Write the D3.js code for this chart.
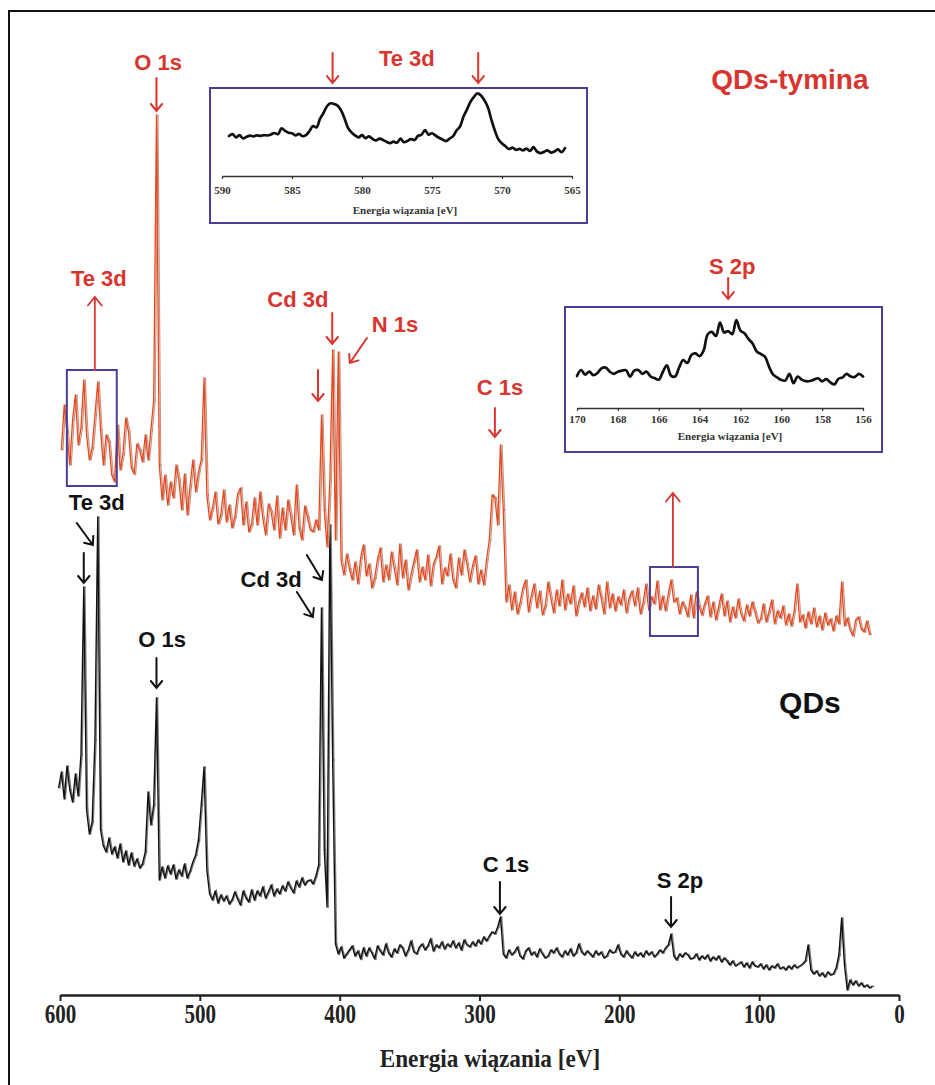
<!DOCTYPE html>
<html>
<head>
<meta charset="utf-8">
<script src="https://cdn.jsdelivr.net/npm/d3@7"></script>
<style>
  html, body { margin: 0; padding: 0; background: #fff; }
  svg { display: block; }
</style>
</head>
<body>
<svg id="chart" width="935" height="1085"></svg>
<script>
// ---------------------------------------------------------------
// XPS survey spectra (binding energy grid: start, step in eV)
// ---------------------------------------------------------------
const qdsStart = 601, qdsStep = 2;          // QDs
const qdsIntensity = [
  21.2, 22.8, 20.1, 23.4, 21.0, 19.8, 22.6, 20.4, 24.5, 41.3,
  19.0, 16.6, 17.8, 26.0, 48.3, 17.0, 15.4, 14.8, 16.2, 14.6,
  15.3, 14.2, 15.6, 13.8, 14.9, 13.5, 14.7, 13.4, 14.1, 13.2,
  13.6, 14.8, 20.8, 17.5, 19.5, 30.2, 12.0, 13.3, 12.2, 13.4,
  12.6, 13.5, 12.1, 13.0, 12.4, 13.6, 12.2, 12.9, 13.8, 14.5,
  16.0, 19.5, 23.3, 13.0, 10.6, 10.0, 10.9, 9.7, 10.5, 9.9,
  10.4, 9.6, 10.0, 10.8, 10.1, 9.5, 10.9, 10.2, 9.8, 11.0,
  10.0, 10.9, 10.4, 11.3, 10.2, 10.8, 11.5, 10.4, 11.1, 10.6,
  11.4, 10.9, 11.8, 11.2, 10.7, 11.9, 11.3, 12.2, 11.5, 11.9,
  12.0, 11.6, 12.4, 13.5, 39.2, 15.0, 9.3, 47.5, 24.0, 5.6,
  4.6, 5.3, 4.2, 4.6, 5.0, 5.4, 4.4, 4.9, 4.1, 5.2,
  4.4, 5.2, 4.7, 4.1, 5.4, 4.9, 4.5, 5.6, 4.7, 4.3,
  5.1, 4.7, 5.5, 5.2, 4.4, 5.0, 5.9, 4.8, 4.6, 5.3,
  5.6, 5.0, 5.4, 6.1, 4.9, 5.5, 5.2, 5.8, 5.1, 5.6,
  5.3, 5.9, 5.2, 5.7, 5.0, 6.0, 5.5, 5.3, 5.8, 5.4,
  6.0, 5.6, 6.3, 5.9, 6.4, 6.8, 6.6, 7.3, 8.3, 4.6,
  4.2, 5.0, 4.5, 4.8, 5.3, 4.4, 4.1, 4.9, 5.2, 4.5,
  4.8, 4.3, 5.1, 4.6, 4.2, 4.4, 5.0, 4.7, 5.2, 4.6,
  4.3, 4.9, 4.5, 5.1, 4.4, 4.7, 5.6, 4.8, 4.5, 4.9,
  4.6, 4.3, 4.9, 4.5, 4.8, 4.2, 4.4, 5.0, 4.7, 4.8,
  5.5, 4.6, 4.3, 4.9, 4.5, 4.2, 4.8, 4.4, 4.7, 4.3,
  4.9, 4.5, 4.8, 4.3, 4.6, 5.0, 4.7, 5.2, 5.5, 6.6,
  4.4, 4.0, 4.6, 4.3, 4.7, 4.5, 4.1, 4.2, 4.6, 4.0,
  4.4, 4.1, 4.5, 3.9, 4.3, 4.0, 4.4, 3.8, 4.2, 3.9,
  3.5, 3.9, 3.4, 3.6, 3.8, 3.3, 3.7, 3.2, 3.8, 3.4,
  3.3, 3.6, 3.1, 3.5, 3.0, 3.4, 3.2, 3.6, 3.1, 3.3,
  3.0, 3.4, 3.1, 3.5, 3.2, 3.4, 3.6, 3.9, 5.5, 3.0,
  2.6, 2.9, 2.4, 2.7, 2.3, 2.8, 2.5, 2.6, 3.2, 4.5,
  8.2, 3.5, 1.0, 2.0, 1.5, 1.9, 1.4, 1.7, 1.3, 1.5,
  1.2, 1.4
];

const thyStart = 599, thyStep = 2;          // QDs-tymina
const thyIntensity = [
  55.0, 59.5, 56.8, 53.5, 58.0, 60.5, 55.5, 57.2, 62.0, 56.5,
  54.0, 55.2, 58.5, 61.8, 57.0, 53.5, 56.5, 55.8, 52.5, 51.8,
  57.5, 53.0, 54.6, 58.2, 56.8, 53.2, 52.6, 55.6, 55.0, 53.8,
  56.5, 54.0, 57.0, 60.0, 88.5, 53.5, 50.0, 52.5, 49.5, 51.8,
  50.2, 53.5, 52.0, 49.0, 52.6, 48.5, 51.4, 54.0, 50.8, 52.8,
  54.0, 62.2, 50.5, 48.0, 49.2, 50.8, 47.6, 48.5, 51.0, 47.8,
  49.5, 47.2, 48.3, 50.6, 51.2, 47.5, 49.8, 46.8, 47.6, 50.2,
  47.5, 50.8, 48.2, 46.5, 49.6, 48.8, 47.0, 50.4, 46.2, 49.2,
  47.0, 50.0, 48.4, 46.5, 51.5, 47.2, 46.0, 49.4, 48.3, 47.0,
  46.8, 48.0, 47.0, 58.5, 49.0, 45.3, 52.0, 65.0, 46.0, 64.8,
  44.0, 42.5, 44.6, 43.1, 42.0, 43.8, 41.6, 44.2, 45.5, 42.4,
  43.6, 41.2, 42.2, 44.0, 45.2, 41.8, 43.5, 42.0, 44.8, 43.2,
  41.5, 45.6, 42.2, 44.0, 41.0, 42.5, 43.8, 45.0, 41.8, 43.3,
  42.0, 44.5, 41.4, 43.6, 44.3, 45.4, 41.6, 43.2, 42.4, 44.6,
  42.0, 41.2, 44.2, 42.5, 45.0, 43.6, 41.8, 43.4, 44.4, 41.6,
  43.0, 41.5, 44.0, 46.0, 50.5, 50.2, 47.5, 55.5, 49.0, 39.8,
  41.5, 39.0, 40.8, 38.6, 39.7, 41.2, 42.0, 38.8, 40.4, 41.6,
  39.2, 40.9, 38.5, 39.4, 41.8, 40.2, 38.7, 41.0, 39.4, 42.0,
  39.0, 40.6, 39.6, 41.4, 38.4, 39.8, 40.7, 39.3, 41.2, 38.9,
  40.4, 39.1, 41.5, 40.2, 38.6, 41.8, 39.2, 40.6, 38.9, 40.3,
  39.5, 41.0, 38.7, 40.2, 40.9, 39.4, 41.2, 38.6, 39.7, 41.6,
  39.0, 40.3, 39.6, 41.9, 39.0, 40.4, 38.9, 40.6, 42.0, 39.8,
  40.2, 38.6, 39.8, 39.2, 38.3, 40.5, 38.2, 40.8, 39.4, 38.5,
  39.6, 40.4, 38.3, 39.8, 38.0, 39.3, 40.6, 38.4, 39.9, 37.8,
  39.3, 38.2, 40.1, 38.6, 37.9, 39.5, 38.4, 39.8, 38.8, 37.7,
  38.1, 39.6, 37.8, 38.8, 40.0, 37.6, 38.9, 38.2, 39.4, 37.5,
  38.6, 37.4, 38.9, 41.6, 37.8, 38.5, 37.2, 38.8, 37.6, 39.2,
  37.3, 38.4, 37.0, 38.7, 37.5, 38.1, 36.9, 38.4, 37.6, 41.8,
  37.4, 38.2, 37.0, 36.4, 38.0, 38.3, 37.1, 36.8, 37.9, 36.5
];

// High-resolution windows of QDs-tymina
const te3dStart = 589.5, te3dStep = 0.25;
const te3dIntensity = [
  44.5, 46.5, 43.0, 45.5, 41.8, 43.5, 44.8, 44.0, 45.2, 44.6,
  45.5, 45.0, 46.2, 47.8, 46.5, 53.0, 50.2, 48.0, 47.5, 45.0,
  46.8, 44.2, 45.5, 50.0, 55.5, 54.0, 63.5, 70.0, 77.5, 80.8,
  80.0, 78.2, 73.0, 64.0, 53.5, 48.5, 45.2, 43.0, 45.5, 42.0,
  44.0, 41.2, 39.5, 41.5, 40.0, 38.0, 36.5, 38.2, 37.0, 41.5,
  37.5, 39.0, 41.0, 40.0, 44.5, 45.8, 51.0, 46.0, 47.5, 45.0,
  42.5, 40.5, 38.8, 41.5, 44.0, 50.5, 55.0, 66.0, 74.0, 82.5,
  88.0, 91.8, 89.5, 84.0, 76.0, 62.0, 50.0, 40.5, 36.0, 33.0,
  30.0, 31.5, 29.0, 30.2, 28.5, 30.5, 27.8, 32.0, 27.0, 25.5,
  26.8, 28.5, 26.0, 27.2, 29.5, 26.5, 31.0
];

const s2pStart = 170, s2pStep = 0.2;
const s2pIntensity = [
  35.6, 42.2, 37.0, 40.5, 36.5, 38.8, 44.0, 45.0, 40.5, 38.0,
  40.2, 41.5, 42.0, 34.8, 41.5, 42.2, 38.0, 40.5, 35.0, 33.2,
  31.5, 40.0, 47.5, 36.0, 35.0, 45.0, 53.3, 50.0, 59.0, 60.7,
  57.5, 64.0, 82.0, 84.5, 80.0, 95.0, 84.0, 85.5, 82.0, 97.8,
  86.0, 83.0, 76.5, 71.5, 62.6, 60.0, 57.0, 46.0, 37.0, 34.0,
  31.1, 30.5, 38.0, 27.5, 35.0, 31.5, 29.8, 30.0, 31.5, 33.0,
  29.5, 32.0, 28.5, 26.3, 32.5, 34.0, 38.0, 35.0, 34.5, 38.0,
  35.0
];

// Axis ticks
const surveyTicks = [600, 500, 400, 300, 200, 100, 0];
const te3dTicks = [590, 585, 580, 575, 570, 565];
const s2pTicks = [170, 168, 166, 164, 162, 160, 158, 156];

// Peak labels (binding energy, intensity of the label baseline)
const redLabels = [
  { text: "O 1s",  e: 529.8, v: 93.0 },
  { text: "Te 3d", e: 572.2, v: 71.4 },
  { text: "Cd 3d", e: 429.9, v: 69.3 },
  { text: "N 1s",  e: 360.5, v: 66.8 },
  { text: "C 1s",  e: 285.4, v: 60.5 }
];
const redArrows = [
  { from: [531, 92.2],   to: [531, 88.9] },
  { from: [405.3, 68.7], to: [405.3, 65.6] },
  { from: [415.5, 63.0], to: [415.5, 59.9] },
  { from: [380.5, 66.2], to: [392.7, 63.7] },
  { from: [289, 59.2],   to: [289, 56.3] }
];
const blackLabels = [
  { text: "Te 3d", e: 573.7, v: 49.0 },
  { text: "O 1s",  e: 527.0, v: 35.3 },
  { text: "Cd 3d", e: 449.0, v: 41.3 },
  { text: "C 1s",  e: 281.1, v: 12.8 },
  { text: "S 2p",  e: 156.7, v: 11.2 }
];
const blackArrows = [
  { from: [588, 47.7],   to: [576.5, 45.5] },
  { from: [583, 44.7],   to: [583, 41.7] },
  { from: [531, 34.2],   to: [531, 31.2] },
  { from: [423.5, 44.5], to: [412.7, 42.0] },
  { from: [430.6, 40.8], to: [419.2, 38.3] },
  { from: [285.4, 11.8], to: [285.4, 8.6] },
  { from: [163, 10.3],   to: [163, 7.3] }
];
// Regions shown in the high-resolution windows
const te3dRegion = { e: [595.1, 559.4], v: [63.0, 51.4], link: 575.1, tip: 70.3 };
const s2pRegion  = { e: [178.1, 143.8], v: [43.3, 36.4], link: 161.7, tip: 50.7 };

// ---------------------------------------------------------------
const RED = "#d8352f";
const SANS = "'Liberation Sans', Arial, sans-serif";
const SERIF = "'Liberation Serif', 'Times New Roman', serif";
const FRAME = "#4a3f98";

const svg = d3.select("#chart");
svg.append("rect").attr("width", 935).attr("height", 1085).attr("fill", "#fff");
svg.append("rect").attr("x", 9).attr("y", 11).attr("width", 1000).attr("height", 1200)
  .attr("fill", "none").attr("stroke", "#111").attr("stroke-width", 2);

const x = d3.scaleLinear().domain([600, 0]).range([60, 899]);
const y = d3.scaleLinear().domain([0, 100]).range([1000, 0]);

const toPoints = (start, step, vals) => vals.map((v, i) => ({ e: start - i * step, v }));
const qds = toPoints(qdsStart, qdsStep, qdsIntensity);
const thy = toPoints(thyStart, thyStep, thyIntensity);

const surveyLine = d3.line().x(d => x(d.e)).y(d => y(d.v));

function arrow(g, x1, y1, x2, y2, color, w, head) {
  const ang = Math.atan2(y2 - y1, x2 - x1);
  const h = head || 9, spread = 0.68;
  const p = d3.path();
  p.moveTo(x1, y1); p.lineTo(x2, y2);
  p.moveTo(x2 - h * Math.cos(ang - spread), y2 - h * Math.sin(ang - spread));
  p.lineTo(x2, y2);
  p.lineTo(x2 - h * Math.cos(ang + spread), y2 - h * Math.sin(ang + spread));
  g.append("path").attr("d", p.toString()).attr("fill", "none")
    .attr("stroke", color).attr("stroke-width", w)
    .attr("stroke-linecap", "round").attr("stroke-linejoin", "miter");
}

// --- QDs spectrum (black)
const gq = svg.append("g");
gq.append("path").datum(qds).attr("d", surveyLine).attr("transform", "translate(1.2,0)")
  .attr("fill", "none").attr("stroke", "#7d7d7d").attr("stroke-width", 1.3);
gq.append("path").datum(qds).attr("d", surveyLine)
  .attr("fill", "none").attr("stroke", "#111").attr("stroke-width", 1.4).attr("stroke-linejoin", "round");
gq.selectAll("circle").data(qds).join("circle")
  .attr("cx", d => x(d.e) + 1.2).attr("cy", d => y(d.v)).attr("r", 0.9)
  .attr("fill", "#444").attr("opacity", 0.5);

// --- QDs-tymina spectrum (orange)
const gt = svg.append("g");
gt.append("path").datum(thy).attr("d", surveyLine).attr("transform", "translate(1.5,0)")
  .attr("fill", "none").attr("stroke", "#c79584").attr("stroke-width", 1.2);
gt.append("path").datum(thy).attr("d", surveyLine)
  .attr("fill", "none").attr("stroke", "#e9461c").attr("stroke-width", 1.3).attr("stroke-linejoin", "round");
gt.selectAll("circle").data(thy).join("circle")
  .attr("cx", d => x(d.e) + 1.5).attr("cy", d => y(d.v)).attr("r", 0.8)
  .attr("fill", "#6b5048").attr("opacity", 0.45);

// --- Bottom axis
const axis = svg.append("g").attr("transform", "translate(0,995)")
  .call(d3.axisBottom(x).tickValues(surveyTicks).tickSize(6).tickSizeOuter(0).tickPadding(3).tickFormat(d3.format("d")));
axis.select(".domain").attr("stroke", "#222").attr("stroke-width", 2.5);
axis.selectAll(".tick line").attr("stroke", "#222").attr("stroke-width", 2);
axis.selectAll(".tick text").attr("font-family", SERIF).attr("font-weight", "bold")
  .attr("font-size", 27).attr("fill", "#222").attr("transform", "scale(0.78,1)");
svg.append("text").attr("transform", "translate(490,1067) scale(0.93,1)")
  .attr("text-anchor", "middle").attr("font-family", SERIF).attr("font-weight", "bold")
  .attr("font-size", 25).attr("fill", "#222").text("Energia wiązania [eV]");

// --- Marked regions and links to the windows
function region(r) {
  svg.append("rect").attr("x", x(r.e[0])).attr("y", y(r.v[0]))
    .attr("width", x(r.e[1]) - x(r.e[0])).attr("height", y(r.v[1]) - y(r.v[0]))
    .attr("fill", "none").attr("stroke", FRAME).attr("stroke-width", 2);
  arrow(svg, x(r.link), y(r.v[0]), x(r.link), y(r.tip), RED, 1.8, 11);
}
region(te3dRegion);
region(s2pRegion);

// --- Peak annotations
const ann = svg.append("g");
redArrows.forEach(a => arrow(ann, x(a.from[0]), y(a.from[1]), x(a.to[0]), y(a.to[1]), RED, 2));
blackArrows.forEach(a => arrow(ann, x(a.from[0]), y(a.from[1]), x(a.to[0]), y(a.to[1]), "#111", 2));
ann.selectAll("text.red").data(redLabels).join("text").attr("class", "red")
  .attr("x", d => x(d.e)).attr("y", d => y(d.v)).attr("text-anchor", "middle")
  .attr("font-family", SANS).attr("font-weight", "bold").attr("font-size", 22)
  .attr("fill", RED).text(d => d.text);
ann.selectAll("text.blk").data(blackLabels).join("text").attr("class", "blk")
  .attr("x", d => x(d.e)).attr("y", d => y(d.v)).attr("text-anchor", "middle")
  .attr("font-family", SANS).attr("font-weight", "bold").attr("font-size", 22)
  .attr("fill", "#111").text(d => d.text);

// Series names
svg.append("text").attr("x", x(78)).attr("y", y(91.1)).attr("text-anchor", "middle")
  .attr("font-family", SANS).attr("font-weight", "bold").attr("font-size", 28)
  .attr("fill", RED).text("QDs-tymina");
svg.append("text").attr("x", x(63.7)).attr("y", y(28.7)).attr("text-anchor", "middle")
  .attr("font-family", SANS).attr("font-weight", "bold").attr("font-size", 30)
  .attr("fill", "#111").text("QDs");

// --- High-resolution window
function inset(opts) {
  const g = svg.append("g");
  g.append("rect").attr("x", opts.box[0]).attr("y", opts.box[1])
    .attr("width", opts.box[2]).attr("height", opts.box[3])
    .attr("fill", "#fff").attr("stroke", FRAME).attr("stroke-width", 2);
  const ix = d3.scaleLinear().domain(opts.domain).range(opts.xr);
  const iy = d3.scaleLinear().domain([0, 100]).range([opts.axisY, opts.axisY - 90]);
  const pts = toPoints(opts.start, opts.step, opts.values);
  g.append("path").datum(pts)
    .attr("d", d3.line().curve(d3.curveCatmullRom.alpha(0.5)).x(d => ix(d.e)).y(d => iy(d.v)))
    .attr("fill", "none").attr("stroke", "#111").attr("stroke-width", 2.7)
    .attr("stroke-linejoin", "round").attr("stroke-linecap", "round");
  const ax = g.append("g").attr("transform", `translate(0,${opts.axisY})`)
    .call(d3.axisBottom(ix).tickValues(opts.ticks).tickSize(3).tickSizeOuter(0).tickPadding(opts.pad));
  ax.select(".domain").attr("stroke", "#333").attr("stroke-width", 1.4);
  ax.selectAll(".tick line").attr("stroke", "#333").attr("stroke-width", 1.2);
  ax.selectAll(".tick text").attr("font-family", SERIF).attr("font-weight", "bold")
    .attr("font-size", 11).attr("fill", "#333");
  g.append("text").attr("x", opts.titleX).attr("y", opts.titleY).attr("text-anchor", "middle")
    .attr("font-family", SERIF).attr("font-weight", "bold").attr("font-size", 11)
    .attr("fill", "#333").text("Energia wiązania [eV]");
  // peak markers above the window
  opts.marks.forEach(m => arrow(svg, ix(m), iy(opts.markTop), ix(m), iy(opts.markTip), RED, 2));
  svg.append("text").attr("x", ix(opts.label.e)).attr("y", iy(opts.label.v))
    .attr("text-anchor", "middle").attr("font-family", SANS).attr("font-weight", "bold")
    .attr("font-size", 22).attr("fill", RED).text(opts.label.text);
}

inset({
  box: [210, 88, 377, 135], domain: [590, 565], xr: [222, 572], axisY: 176,
  start: te3dStart, step: te3dStep, values: te3dIntensity, ticks: te3dTicks, pad: 7,
  titleX: 405, titleY: 214,
  marks: [582.1, 571.7], markTop: 136.7, markTip: 103.3,
  label: { text: "Te 3d", e: 576.8, v: 122.2 }
});
inset({
  box: [565, 307, 317, 145], domain: [170, 156], xr: [577, 863], axisY: 408,
  start: s2pStart, step: s2pStep, values: s2pIntensity, ticks: s2pTicks, pad: 4,
  titleX: 730, titleY: 440,
  marks: [162.6], markTop: 144.4, markTip: 121.1,
  label: { text: "S 2p", e: 162.4, v: 148.9 }
});
</script>
</body>
</html>
